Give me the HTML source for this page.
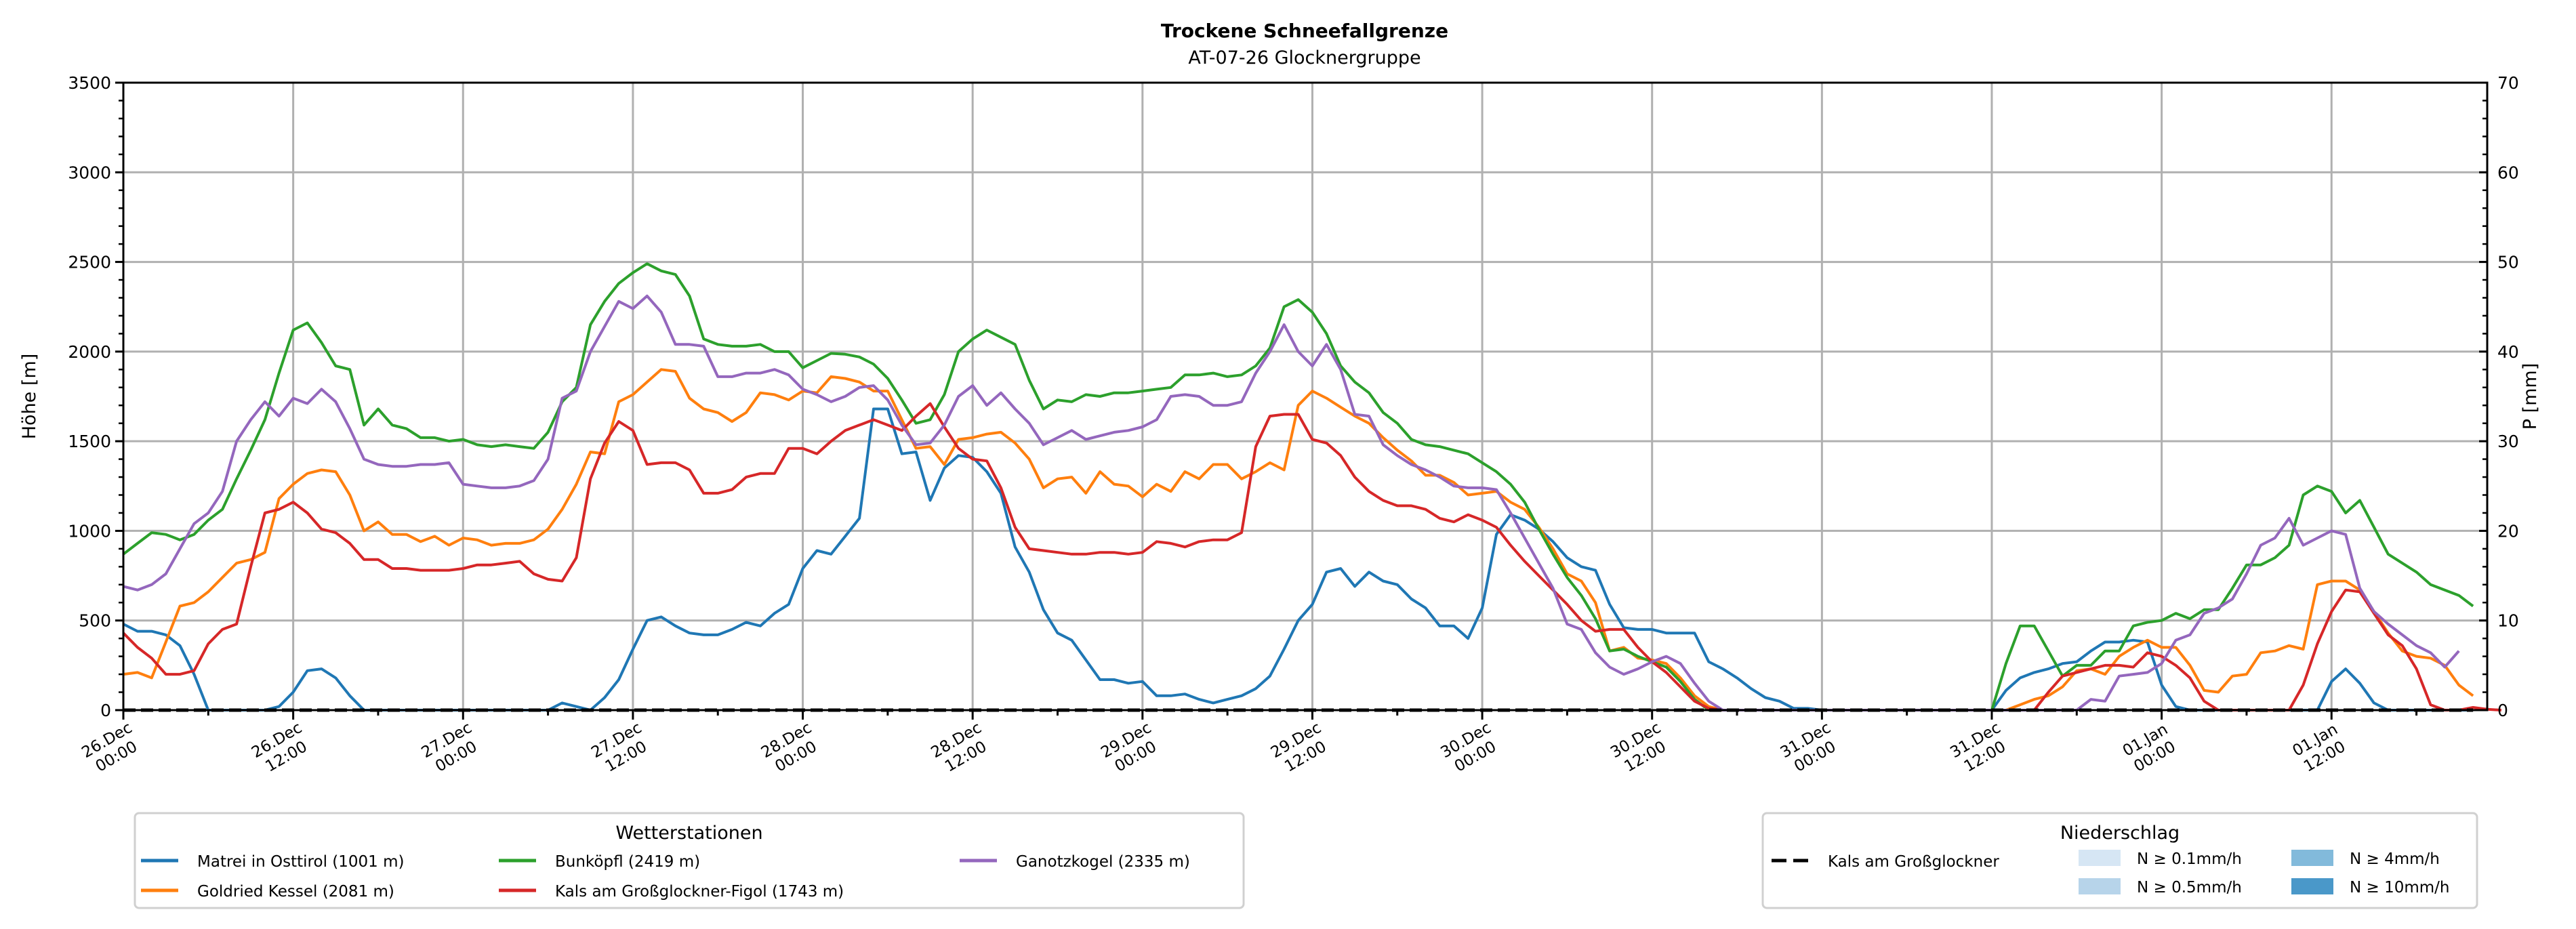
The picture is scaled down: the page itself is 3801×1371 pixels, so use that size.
<!DOCTYPE html>
<html><head><meta charset="utf-8"><style>
body{margin:0;background:#fff}
svg{display:block;font-family:"DejaVu Sans","Liberation Sans",sans-serif}
</style></head><body>
<svg id="chart" width="3801" height="1371" viewBox="0 0 3801 1371">
<g id="grid"></g>
<g id="series"></g>
<g id="axes"></g>
<text x="1925" y="55" text-anchor="middle" font-size="28" font-weight="bold">Trockene Schneefallgrenze</text>
<text x="1925" y="94" text-anchor="middle" font-size="27">AT-07-26 Glocknergruppe</text>
<text transform="translate(52,585) rotate(-90)" text-anchor="middle" font-size="27">Höhe [m]</text>
<text transform="translate(3742,585) rotate(-90)" text-anchor="middle" font-size="27">P [mm]</text>
<g id="legend1">
<rect x="199" y="1200" width="1636" height="140" rx="6" fill="#fff" stroke="#d0d0d0" stroke-width="3"/>
<text x="1017" y="1238" text-anchor="middle" font-size="27">Wetterstationen</text>
</g>
<g id="legend2">
<rect x="2601" y="1200" width="1054" height="140" rx="6" fill="#fff" stroke="#d0d0d0" stroke-width="3"/>
<text x="3128" y="1238" text-anchor="middle" font-size="27">Niederschlag</text>
</g>
</svg>
<script>
const hours0to111 = [0,111];
const matrei = [480,440,440,420,360,200,0,0,0,0,0,20,100,220,230,180,80,0,0,0,0,0,0,0,0,0,0,0,0,0,0,40,20,0,70,170,340,500,520,470,430,420,420,450,490,470,540,590,790,890,870,970,1070,1680,1680,1430,1440,1170,1350,1420,1410,1330,1210,910,770,560,430,390,280,170,170,150,160,80,80,90,60,40,60,80,120,190,340,500,590,770,790,690,770,720,700,620,570,470,470,400,570,980,1090,1060,1010,940,850,800,780,590,460,450,450,430,430,430,270,230,180,120,70,50,10,10,0,0,0,0,0,0,0,0,0,0,0,0,0,110,180,210,230,260,270,330,380,380,390,380,140,20,0,0,0,0,0,0,0,0,0,0,160,230,150,40,0,0,0,0,0,0,0];
const goldried = [200,210,180,380,580,600,660,740,820,840,880,1180,1260,1320,1340,1330,1200,1000,1050,980,980,940,970,920,960,950,920,930,930,950,1010,1120,1260,1440,1430,1720,1760,1830,1900,1890,1740,1680,1660,1610,1660,1770,1760,1730,1780,1770,1860,1850,1830,1780,1780,1620,1460,1470,1370,1510,1520,1540,1550,1490,1400,1240,1290,1300,1210,1330,1260,1250,1190,1260,1220,1330,1290,1370,1370,1290,1330,1380,1340,1700,1780,1740,1690,1640,1600,1520,1450,1390,1310,1310,1270,1200,1210,1220,1160,1120,1020,900,760,720,600,330,350,290,280,260,180,80,20,0,0,0,0,0,0,0,0,0,0,0,0,0,0,0,0,0,0,0,0,0,30,60,80,130,220,230,200,300,350,390,350,350,250,110,100,190,200,320,330,360,340,700,720,720,670,550,430,330,300,290,250,140,80];
const bunkoepfl = [870,930,990,980,950,980,1060,1120,1290,1450,1620,1880,2120,2160,2050,1920,1900,1590,1680,1590,1570,1520,1520,1500,1510,1480,1470,1480,1470,1460,1550,1720,1800,2150,2280,2380,2440,2490,2450,2430,2310,2070,2040,2030,2030,2040,2000,2000,1910,1950,1990,1985,1970,1930,1850,1730,1600,1620,1760,2000,2070,2120,2080,2040,1840,1680,1730,1720,1760,1750,1770,1770,1780,1790,1800,1870,1870,1880,1860,1870,1920,2020,2250,2290,2220,2100,1920,1830,1770,1660,1600,1510,1480,1470,1450,1430,1380,1330,1260,1160,1010,870,740,640,510,330,340,300,270,240,160,60,0,0,0,0,0,0,0,0,0,0,0,0,0,0,0,0,0,0,0,0,0,260,470,470,330,190,250,250,330,330,470,490,500,540,510,560,560,680,810,810,850,920,1200,1250,1220,1100,1170,1020,870,820,770,700,670,640,580];
const figol = [430,350,290,200,200,220,370,450,480,800,1100,1120,1160,1100,1010,990,930,840,840,790,790,780,780,780,790,810,810,820,830,760,730,720,850,1290,1490,1610,1560,1370,1380,1380,1340,1210,1210,1230,1300,1320,1320,1460,1460,1430,1500,1560,1590,1620,1590,1560,1640,1710,1580,1460,1400,1390,1240,1020,900,890,880,870,870,880,880,870,880,940,930,910,940,950,950,990,1470,1640,1650,1650,1510,1490,1420,1300,1220,1170,1140,1140,1120,1070,1050,1090,1060,1020,920,830,750,670,590,500,440,450,450,350,270,210,130,50,10,0,0,0,0,0,0,0,0,0,0,0,0,0,0,0,0,0,0,0,0,0,0,0,100,190,210,230,250,250,240,320,300,250,180,50,0,0,0,0,0,0,140,370,550,670,660,540,420,360,230,30,0,0,15,5,0];
const ganotz = [690,670,700,760,900,1040,1100,1220,1500,1620,1720,1640,1740,1710,1790,1720,1570,1400,1370,1360,1360,1370,1370,1380,1260,1250,1240,1240,1250,1280,1400,1740,1780,2000,2140,2280,2240,2310,2220,2040,2040,2030,1860,1860,1880,1880,1900,1870,1790,1760,1720,1750,1800,1810,1730,1590,1480,1490,1590,1750,1810,1700,1770,1680,1600,1480,1520,1560,1510,1530,1550,1560,1580,1620,1750,1760,1750,1700,1700,1720,1880,2000,2150,2000,1920,2040,1900,1650,1640,1480,1420,1370,1340,1300,1250,1240,1240,1230,1100,960,820,680,480,450,320,240,200,230,270,300,260,150,50,0,0,0,0,0,0,0,0,0,0,0,0,0,0,0,0,0,0,0,0,0,0,0,0,0,0,60,50,190,200,210,260,390,420,540,570,620,760,920,960,1070,920,960,1000,980,680,550,480,420,360,320,240,330];
const precip = new Array(167).fill(0);
const yTicks = [0,500,1000,1500,2000,2500,3000,3500];
const y2Ticks = [0,10,20,30,40,50,60,70];
const xTickLabels = [["26.Dec","00:00"],["26.Dec","12:00"],["27.Dec","00:00"],["27.Dec","12:00"],["28.Dec","00:00"],["28.Dec","12:00"],["29.Dec","00:00"],["29.Dec","12:00"],["30.Dec","00:00"],["30.Dec","12:00"],["31.Dec","00:00"],["31.Dec","12:00"],["01.Jan","00:00"],["01.Jan","12:00"]];

const NS="http://www.w3.org/2000/svg";
const L=182,R=3670,T=122,B=1048,HMAX=167;
const xs=h=>L+(R-L)*h/HMAX;
const ys=v=>B-(B-T)*v/3500;
const ys2=v=>B-(B-T)*v/70;
function mk(tag,attrs,parent,text){const e=document.createElementNS(NS,tag);for(const k in attrs)e.setAttribute(k,attrs[k]);if(text!==undefined)e.textContent=text;parent.appendChild(e);return e;}
const grid=document.getElementById('grid'),axes=document.getElementById('axes'),ser=document.getElementById('series');
// grid
yTicks.forEach(v=>{const g=mk('line',{x1:L,x2:R,y1:ys(v),y2:ys(v),stroke:'#b0b0b0','stroke-width':3},grid);

});
xTickLabels.forEach((lab,i)=>{const x=xs(i*12);const g=mk('line',{x1:x,x2:x,y1:T,y2:B,stroke:'#b0b0b0','stroke-width':3},grid);

});
// series
const colors=['#1f77b4','#ff7f0e','#2ca02c','#d62728','#9467bd'];
const all=[matrei,goldried,bunkoepfl,figol,ganotz];
const names=['series-matrei','series-goldried','series-bunkoepfl','series-figol','series-ganotzkogel'];
all.forEach((arr,i)=>{const d=arr.map((v,h)=>(h?'L':'M')+xs(h).toFixed(1)+','+ys(v).toFixed(1)).join('');
const p=mk('path',{d:d,fill:'none',stroke:colors[i],'stroke-width':4,'stroke-linejoin':'round'},ser);

});
const pd=precip.map((v,h)=>(h?'L':'M')+xs(h).toFixed(1)+','+ys2(v).toFixed(1)).join('');
const pp=mk('path',{d:pd,fill:'none',stroke:'#000','stroke-width':5,'stroke-dasharray':'18,8'},ser);


// frame
const fr=mk('rect',{x:L,y:T,width:R-L,height:B-T,fill:'none',stroke:'#000','stroke-width':3},axes);


// y ticks
for(let v=0;v<=3500;v+=100){const major=v%500===0;const t=mk('line',{x1:L-(major?12:7),x2:L,y1:ys(v),y2:ys(v),stroke:'#000','stroke-width':major?3:2.5},axes);

}
yTicks.forEach(v=>{const t=mk('text',{x:L-18,y:ys(v)+9,'text-anchor':'end','font-size':25},axes,String(v));

});
for(let v=0;v<=70;v+=2){const major=v%10===0;const t=mk('line',{x1:R-(major?12:7),x2:R,y1:ys2(v),y2:ys2(v),stroke:'#000','stroke-width':major?3:2.5},axes);

}
y2Ticks.forEach(v=>{const t=mk('text',{x:R+15,y:ys2(v)+9,'font-size':25},axes,String(v));

});
// x ticks
for(let h=0;h<=162;h+=6){const major=h%12===0;const t=mk('line',{x1:xs(h),x2:xs(h),y1:B,y2:B+(major?14:8),stroke:'#000','stroke-width':3},axes);

}
xTickLabels.forEach((lab,i)=>{const cx=xs(i*12)-18,cy=1103;
const t=mk('text',{transform:`translate(${cx},${cy}) rotate(-30)`,'text-anchor':'middle','font-size':23},axes);


mk('tspan',{x:0,y:-5},t,lab[0]);mk('tspan',{x:0,y:23},t,lab[1]);});
// legend 1
const lg1=document.getElementById('legend1');
const entries=[[0,208,1270,'Matrei in Osttirol (1001 m)'],[1,208,1314,'Goldried Kessel (2081 m)'],[2,736,1270,'Bunköpfl (2419 m)'],[3,736,1314,'Kals am Großglockner-Figol (1743 m)'],[4,1416,1270,'Ganotzkogel (2335 m)']];
entries.forEach(e=>{const g=mk('g',{},lg1);


mk('line',{x1:e[1],x2:e[1]+55,y1:e[2],y2:e[2],stroke:colors[e[0]],'stroke-width':5},g);
mk('text',{x:e[1]+83,y:e[2]+9,'font-size':23},g,e[3]);});
// legend 2
const lg2=document.getElementById('legend2');
const g0=mk('g',{},lg2);


mk('line',{x1:2614,x2:2671,y1:1270,y2:1270,stroke:'#000','stroke-width':5,'stroke-dasharray':'22,10'},g0);
mk('text',{x:2697,y:1279,'font-size':23},g0,'Kals am Großglockner');
const pats=[[3067,1266,'#d6e6f4','N ≥ 0.1mm/h'],[3067,1308,'#b7d4ea','N ≥ 0.5mm/h'],[3381,1266,'#82badb','N ≥ 4mm/h'],[3381,1308,'#4a98c9','N ≥ 10mm/h']];
pats.forEach(p=>{const g=mk('g',{},lg2);


mk('rect',{x:p[0],y:p[1]-12,width:62,height:24,fill:p[2]},g);
mk('text',{x:p[0]+86,y:p[1]+9,'font-size':23},g,p[3]);});
</script>
</body></html>
